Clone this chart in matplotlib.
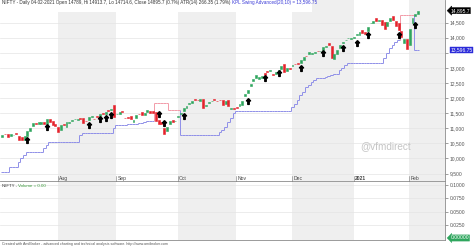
import numpy as np
import pandas as pd
import matplotlib
matplotlib.use('Agg')
import matplotlib.pyplot as plt
import matplotlib.transforms as mtransforms
from matplotlib.collections import LineCollection
from matplotlib.patches import Rectangle
from matplotlib.path import Path

plt.rcParams['font.family'] = ['Liberation Sans', 'DejaVu Sans']

# trading days shown (nse holidays out, diwali muhurat session in)
dates = pd.bdate_range('2020-07-06', '2021-02-04')
holidays = pd.to_datetime(['2020-10-02', '2020-11-16', '2020-11-30', '2020-12-25', '2021-01-26'])
dates = dates.drop(holidays).union(pd.to_datetime(['2020-11-14']))

# nifty daily open / close
opens = [10723, 10802, 10819, 10755, 10764, 10851, 10754, 10702, 10612, 10752,
         10919, 11090, 11174, 11149, 11150, 11225, 11154, 11302, 11246, 11141,
         11057, 10946, 11155, 11050, 11186, 11250, 11300, 11289, 11334, 11353,
         11250, 11275, 11382, 11316, 11409, 11412, 11500, 11475, 11609, 11602,
         11777, 11464, 11488, 11580, 11355, 11360, 11409, 11220, 11334, 11478,
         11540, 11449, 11555, 11558, 11559, 11532, 11288, 11205, 11000, 10913,
         11141, 11288, 11244, 11364, 11487, 11574, 11680, 11792, 11852, 11974,
         11935, 11918, 11957, 11727, 11835, 11896, 11958, 11917, 11949, 11937,
         11807, 11922, 11633, 11679, 11697, 11734, 11784, 12063, 12156, 12399,
         12556, 12680, 12624, 12659, 12829, 12901, 12911, 12811, 12810, 12906,
         12961, 13130, 12907, 13012, 13062, 13122, 13178, 13154, 13265, 13394,
         13458, 13473, 13503, 13565, 13548, 13597, 13708, 13810, 13741, 13304,
         13473, 13672, 13815, 13911, 13980, 13970, 13997, 14104, 14075, 14240,
         14192, 14235, 14474, 14474, 14639, 14550, 14594, 14523, 14371, 14538,
         14730, 14569, 14477, 14237, 13810, 13946, 13758, 14482, 14706, 14789]
closes = [10763, 10800, 10706, 10814, 10768, 10802, 10607, 10618, 10740, 10902,
          11022, 11162, 11132, 11215, 11194, 11132, 11300, 11202, 11102, 11073,
          10891, 11095, 11102, 11200, 11214, 11270, 11322, 11308, 11300, 11178,
          11247, 11385, 11409, 11312, 11372, 11466, 11472, 11550, 11559, 11648,
          11388, 11470, 11536, 11527, 11333, 11356, 11318, 11278, 11449, 11465,
          11440, 11522, 11605, 11516, 11505, 11251, 11153, 11132, 10806, 11050,
          11228, 11222, 11248, 11417, 11503, 11662, 11739, 11835, 11914, 11930,
          11934, 11971, 11680, 11762, 11873, 11897, 11938, 11896, 11930, 11768,
          11889, 11730, 11670, 11642, 11669, 11813, 11909, 12120, 12264, 12461,
          12631, 12749, 12691, 12720, 12780, 12874, 12938, 12772, 12860, 12926,
          13055, 12858, 12987, 12969, 13109, 13114, 13134, 13259, 13356, 13393,
          13529, 13478, 13514, 13558, 13568, 13682, 13741, 13761, 13328, 13466,
          13602, 13749, 13873, 13932, 13982, 13982, 14019, 14133, 14199, 14146,
          14137, 14347, 14485, 14564, 14565, 14596, 14433, 14281, 14521, 14645,
          14590, 14372, 14239, 14039, 13968, 13635, 14281, 14648, 14790, 14896]

# KPL swing stop line
stop = [9563, 9563, 9563, 9729, 9729, 9729, 9895, 10000, 10116, 10226,
        10226, 10226, 10226, 10226, 10226, 10338, 10447, 10557, 10557, 10557,
        10557, 10557, 10557, 10557, 10557, 10557, 10557, 10557, 10778, 10850,
        10850, 10850, 10850, 10850, 10850, 10850, 10850, 10850, 10850, 10850,
        11000, 11110, 11110, 11110, 11110, 11143, 11143, 11143, 11143, 11180,
        11180, 11220, 11250, 11250, 11250, 11830, 11830, 11830, 11830, 11830,
        11606, 11606, 11606, 11606, 10790, 10790, 10790, 10790, 10790, 10790,
        10790, 10790, 10790, 10790, 10790, 10790, 10790, 10790, 10888, 10950,
        11050, 11200, 11340, 11497, 11583, 11583, 11583, 11583, 11583, 11583,
        11583, 11583, 11583, 11583, 11583, 11583, 11583, 11583, 11583, 11583,
        11583, 11583, 11583, 11583, 11700, 11790, 11940, 12100, 12212, 12378,
        12450, 12543, 12600, 12655, 12655, 12680, 12710, 12740, 12765, 12790,
        12800, 12930, 13006, 13080, 13150, 13150, 13150, 13150, 13150, 13150,
        13150, 13150, 13150, 13150, 13150, 13150, 13150, 13318, 13484, 13650,
        13760, 13870, 13920, 14750, 14750, 14750, 14750, 14750, 13597, 13597]

# buy arrows (bar, level)
arrow_bars = [9, 16, 31, 35, 37, 39, 56, 58, 65, 88, 94, 99, 107, 115, 122, 127, 131, 142, 148]
arrow_vals = [10613, 11048, 11115, 11313, 11346, 11446, 11474, 11176, 11408, 11904,
              12666, 12841, 12997, 13493, 13659, 13825, 14089, 14089, 14420]

months = ['Aug', 'Sep', 'Oct', 'Nov', 'Dec', '2021', 'Feb']
price_ticks = [9500, 10000, 10500, 11000, 11500, 12000, 12500, 13000, 13500, 14000, 14500]
vol_ticks = [0.025, 0.05, 0.075, 0.1]

W, H = 474, 247
fig = plt.figure(figsize=(W / 100, H / 100), dpi=100)
ax = fig.add_axes([0, 66 / H, 445 / W, 181 / H])
ax2 = fig.add_axes([0, 7 / H, 445 / W, 58 / H])

n = len(closes)
x = np.arange(n)
opens = np.array(opens)
closes = np.array(closes)
stop = np.array(stop)
xlim = (-0.84, 158.65)

# month bands
month_num = dates.month.values
starts = [0] + [i for i in range(1, n) if month_num[i] != month_num[i - 1]]
for a in (ax, ax2):
    for k, s in enumerate(starts):
        e = starts[k + 1] - 0.1 if k + 1 < len(starts) else xlim[1]
        if month_num[s] % 2 == 0:
            a.axvspan(s - 0.1, e, color='#efefef', lw=0, zorder=0)
    a.set_xlim(*xlim)
    a.set_xticks([])
    for sp in ['top', 'left']:
        a.spines[sp].set_visible(False)
    for sp in ['right', 'bottom']:
        a.spines[sp].set_color('#8a8a8a')
        a.spines[sp].set_linewidth(0.6)
    a.yaxis.tick_right()
    a.tick_params(axis='y', labelsize=3.6, colors='#555555', length=2, width=0.4, pad=1.5)

ax.set_ylim(9255, 15248)
ax.set_yticks(price_ticks)
# the 13,500 label sits under the stop value box
ax.set_yticklabels(['' if t == 13500 else '{:,}'.format(t) for t in price_ticks])
for t in price_ticks:
    ax.axhline(t, color='#e4e4e4', lw=0.5, zorder=0.5)

# stop line as staircase, blue when under price, pink when above
long_col, short_col = '#8f8fe8', '#f29aa8'
segs, cols = [], []
for i in range(n):
    c = short_col if stop[i] > closes[i] else long_col
    segs.append([(i - 0.5, stop[i]), (i + 0.5, stop[i])])
    cols.append(c)
    if i > 0 and stop[i] != stop[i - 1]:
        segs.append([(i - 0.5, stop[i - 1]), (i - 0.5, stop[i])])
        cols.append(c)
ax.add_collection(LineCollection(segs, colors=cols, linewidths=0.7, zorder=1))

# candles
up = closes >= opens
colors = np.where(up, '#2fa65e', '#e5222b')
ax.bar(x, closes - opens, bottom=opens, width=0.7, color=colors,
       edgecolor=colors, linewidth=0.4, zorder=2)

# buy arrows
arrow = Path([(0, 1), (0.7, 0.2), (0.25, 0.2), (0.25, -1), (-0.25, -1),
              (-0.25, 0.2), (-0.7, 0.2), (0, 1)])
ax.plot(arrow_bars, arrow_vals, ls='none', marker=arrow, ms=4.2,
        color='black', mec='black', zorder=3)

# month labels along the bottom of the price pane
xb = mtransforms.blended_transform_factory(ax.transData, ax.transAxes)
for s, name in zip(starts[1:], months):
    ax.plot([s - 0.1, s - 0.1], [0, 0.025], transform=xb,
            color='#777777', lw=0.4, clip_on=False, zorder=3)
    ax.text(s + 0.4, 0.016, name, transform=xb,
            fontsize=3.6, color='#444444', ha='left', va='center',
            fontweight='bold' if name == '2021' else 'normal')

# value boxes on the price scale
tr = mtransforms.blended_transform_factory(ax.transAxes, ax.transData)
ax.text(1.012, closes[-1], '{:,.1f}'.format(14895.7), transform=tr, fontsize=3.6, color='white',
        ha='left', va='center', clip_on=False, zorder=5,
        bbox=dict(boxstyle='larrow,pad=0.12', fc='black', ec='black', lw=0.3))
ax.text(1.012, 13596.75, '13,596.75', transform=tr, fontsize=3.6, color='white',
        ha='left', va='center', clip_on=False, zorder=5,
        bbox=dict(boxstyle='square,pad=0.12', fc='#2b2bd9', ec='#2b2bd9', lw=0.3))

# title with white backing
ax.add_patch(Rectangle((0, 0.934), 0.70, 0.07, transform=ax.transAxes, fc='white', ec='none', zorder=0.8))
t1 = ax.text(0.004, 0.985, 'NIFTY - Daily 04-02-2021 Open 14789, Hi 14913.7, Lo 14714.6, Close 14895.7 (0.7%) '
             'ATR(14) 266.35 (1.79%) ', transform=ax.transAxes, fontsize=3.3, color='#333333',
             ha='left', va='center', zorder=4)
ax.annotate('KPL Swing Advanced(20,10) = 13,596.75', xy=(1, 0), xycoords=t1, fontsize=3.3,
            color='#3a3ad8', ha='left', va='bottom', zorder=4)

ax.text(0.867, 0.19, '@vfmdirect', transform=ax.transAxes, fontsize=7.2, color='#c4c4c4',
        ha='center', va='center', zorder=1)

# empty volume pane
ax2.set_ylim(-0.0038, 0.1057)
ax2.set_yticks(vol_ticks)
ax2.set_yticklabels(['{:.4f}'.format(t) for t in vol_ticks])
for t in vol_ticks:
    ax2.axhline(t, color='#e4e4e4', lw=0.5, zorder=0.5)
tr2 = mtransforms.blended_transform_factory(ax2.transAxes, ax2.transData)
ax2.text(1.012, 0.0, '0.00000', transform=tr2, fontsize=3.6, color='white', ha='left', va='center',
         clip_on=False, zorder=5, bbox=dict(boxstyle='larrow,pad=0.12', fc='#2fa65e', ec='#2fa65e', lw=0.3))
t2 = ax2.text(0.004, 0.93, 'NIFTY - ', transform=ax2.transAxes, fontsize=3.2, color='#333333',
              ha='left', va='center')
ax2.annotate('Volume = 0.00', xy=(1, 0), xycoords=t2, fontsize=3.2, color='#3a9a3a',
             ha='left', va='bottom')

fig.text(2 / W, 1 - 243.5 / H, 'Created with AmiBroker - advanced charting and technical analysis software. '
         'http://www.amibroker.com', fontsize=2.6, color='#555555', ha='left', va='center')

fig.savefig('out.png', dpi=100)
